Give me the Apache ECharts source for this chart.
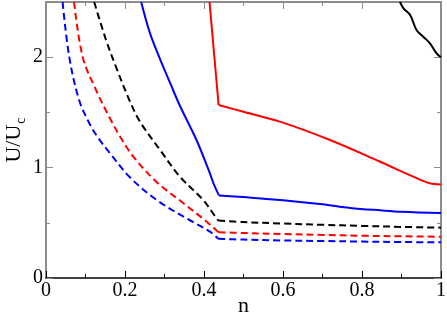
<!DOCTYPE html>
<html>
<head>
<meta charset="utf-8">
<script src="https://cdn.jsdelivr.net/npm/echarts@6/dist/echarts.min.js"></script>
<style>html,body{margin:0;padding:0;background:#fff;}#c{width:447px;height:314px;}</style>
</head>
<body>
<div id="c"></div>
<script>
// tick labels
var xTicks = [0, 0.2, 0.4, 0.6, 0.8, 1];
var yTicks = [0, 1, 2];

// Solid curves (steep branch / flat branch, sharing the kink point)
var blackSolid = [[0.896,2.5],[0.905,2.443],[0.922,2.382],[0.938,2.246],[0.955,2.186],[0.972,2.126],[0.989,2.035],[1.0,1.999]];
var redSolidSteep = [[0.414,2.5],[0.437,1.567]];
var redSolidFlat = [[0.437,1.567],[0.5,1.506],[0.592,1.416],[0.719,1.25],[0.846,1.053],[0.93,0.918],[0.972,0.858],[1.0,0.848]];
var blueSolidSteep = [[0.241,2.5],[0.263,2.22],[0.289,1.98],[0.315,1.76],[0.339,1.56],[0.381,1.25],[0.415,0.948],[0.424,0.858],[0.438,0.748]];
var blueSolidFlat = [[0.438,0.748],[0.5,0.733],[0.6,0.705],[0.7,0.668],[0.77,0.635],[0.85,0.612],[0.9,0.6],[1.0,0.588]];

// Dashed curves
var blackDashedSteep = [[0.122,2.5],[0.152,2.156],[0.177,1.914],[0.211,1.612],[0.238,1.416],[0.289,1.159],[0.339,0.918],[0.398,0.707],[0.42,0.6],[0.436,0.52]];
var blackDashedFlat = [[0.436,0.52],[0.5,0.507],[0.6,0.493],[0.7,0.482],[0.8,0.472],[0.9,0.463],[1.0,0.456]];
var redDashedSteep = [[0.071,2.5],[0.093,2.0],[0.127,1.70],[0.16,1.46],[0.186,1.29],[0.221,1.10],[0.28,0.87],[0.348,0.677],[0.40,0.53],[0.437,0.415]];
var redDashedFlat = [[0.437,0.415],[0.5,0.408],[0.6,0.398],[0.7,0.39],[0.8,0.383],[0.9,0.378],[1.0,0.374]];
var blueDashedSteep = [[0.042,2.5],[0.059,2.0],[0.084,1.61],[0.11,1.40],[0.13,1.28],[0.162,1.13],[0.213,0.91],[0.28,0.707],[0.356,0.54],[0.415,0.42],[0.436,0.355]];
var blueDashedFlat = [[0.436,0.355],[0.5,0.348],[0.6,0.34],[0.7,0.335],[0.8,0.33],[0.9,0.326],[1.0,0.323]];

var FONT = '"Liberation Serif", "DejaVu Serif", serif';
var GRAY = '#8c8c8c';

function xAx(pos, show) {
  var c = pos === 'bottom' ? '#000' : GRAY;
  return {
    type: 'value', position: pos, min: 0, max: 1, interval: 0.2,
    axisLine: { show: true, onZero: false, lineStyle: { color: c, width: pos === 'bottom' ? 1.5 : 2 } },
    axisTick: { show: true, inside: true, length: 7, lineStyle: { color: c, width: 1 } },
    minorTick: { show: true, splitNumber: 2, length: 4, lineStyle: { color: c, width: 1 } },
    splitLine: { show: false },
    minorSplitLine: { show: false },
    axisLabel: show ? {
      show: true, margin: 3, fontFamily: FONT, fontSize: 20, color: '#000',
      formatter: function (v) { var r = Math.round(v * 10) / 10; return xTicks.indexOf(r) >= 0 ? String(r) : ''; }
    } : { show: false },
    name: show ? 'n' : '', nameLocation: 'middle', nameGap: 17, nameMoveOverlap: false,
    nameTextStyle: { fontFamily: FONT, fontSize: 22, color: '#000' }
  };
}
function yAx(pos, show) {
  return {
    type: 'value', position: pos, min: 0, max: 2.5, interval: 1,
    axisLine: { show: true, onZero: false, lineStyle: { color: GRAY, width: 2 } },
    axisTick: { show: true, inside: true, length: 7, lineStyle: { color: GRAY, width: 1 } },
    minorTick: { show: true, splitNumber: 2, length: 4, lineStyle: { color: GRAY, width: 1 } },
    splitLine: { show: false },
    minorSplitLine: { show: false },
    axisLabel: show ? {
      show: true, margin: 3, fontFamily: FONT, fontSize: 20, color: '#000',
      formatter: function (v) { return yTicks.indexOf(v) >= 0 ? String(v) : ''; }
    } : { show: false },
    name: show ? '{a|U/U}{b|c}' : '', nameLocation: 'middle', nameGap: 18, nameRotate: 90, nameMoveOverlap: false,
    nameTextStyle: {
      fontFamily: FONT, fontSize: 22, color: '#000',
      rich: {
        a: { fontFamily: FONT, fontSize: 22, color: '#000' },
        b: { fontFamily: FONT, fontSize: 14, color: '#000', padding: [14, 0, 0, 1] }
      }
    }
  };
}

function ser(data, color, dashed) {
  return {
    type: 'line', data: data, xAxisIndex: 0, yAxisIndex: 0,
    showSymbol: false, symbol: 'none', smooth: 0.35, clip: true, silent: true,
    lineStyle: { color: color, width: 2, type: dashed ? [7, 4] : 'solid', cap: 'butt', join: 'round' },
    animation: false
  };
}

var chart = echarts.init(document.getElementById('c'), null, { renderer: 'canvas' });
chart.setOption({
  animation: false,
  backgroundColor: '#fff',
  grid: { left: 46, right: 6, top: 2, bottom: 36, containLabel: false, outerBoundsMode: 'none' },
  xAxis: [xAx('bottom', true), xAx('top', false)],
  yAxis: [yAx('left', true), yAx('right', false)],
  series: [
    ser(blackSolid, '#000000', false),
    ser(redSolidSteep, '#ff0000', false),
    ser(redSolidFlat, '#ff0000', false),
    ser(blueSolidSteep, '#0000ff', false),
    ser(blueSolidFlat, '#0000ff', false),
    ser(blackDashedSteep, '#000000', true),
    ser(blackDashedFlat, '#000000', true),
    ser(redDashedSteep, '#ff0000', true),
    ser(redDashedFlat, '#ff0000', true),
    ser(blueDashedSteep, '#0000ff', true),
    ser(blueDashedFlat, '#0000ff', true)
  ]
});
</script>
</body>
</html>
